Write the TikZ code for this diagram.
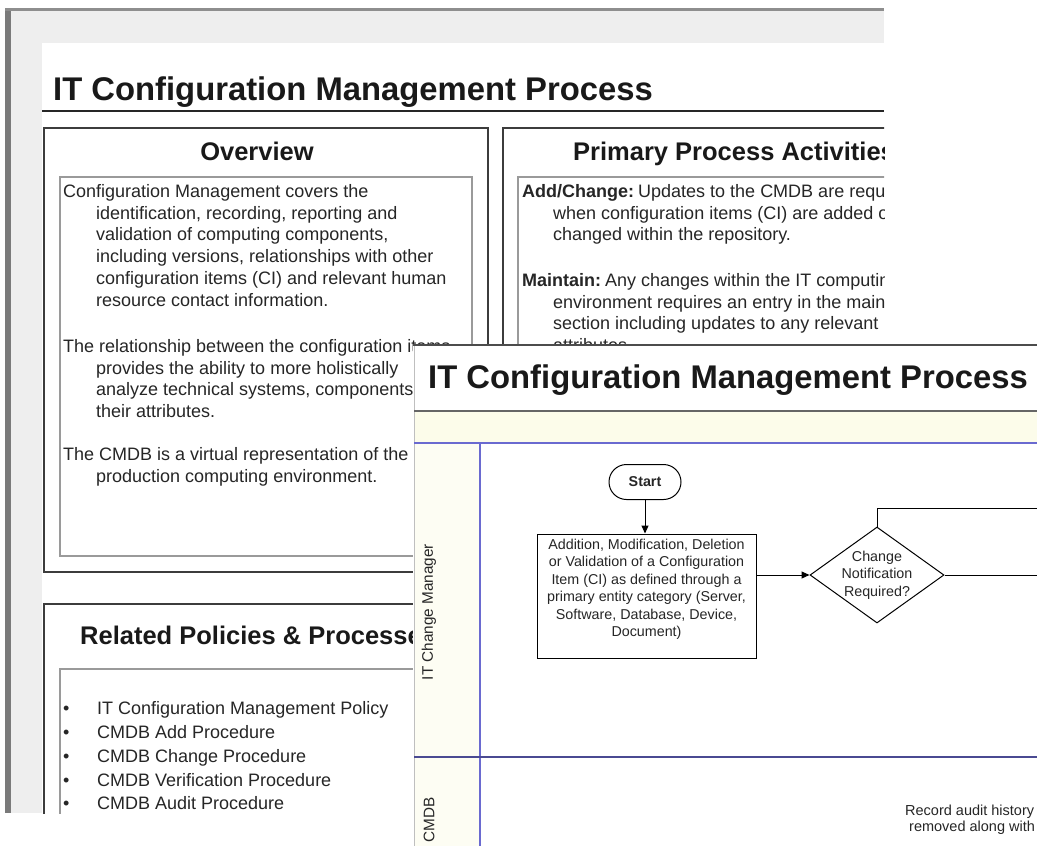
\documentclass[tikz,border=0pt]{standalone}
\usepackage{fontspec}
\setmainfont{Liberation Sans}
\usetikzlibrary{arrows.meta,shapes.geometric,shapes.misc}
\definecolor{framegray}{HTML}{7A7A7A}
\definecolor{bggray}{HTML}{EEEEEE}
\definecolor{boxdark}{HTML}{3C3C3C}
\definecolor{boxlight}{HTML}{9A9A9A}
\definecolor{txt}{HTML}{262626}
\definecolor{lanecol}{HTML}{6A6AD0}
\definecolor{laneyellow}{HTML}{FCFCEA}
\begin{document}
\begin{tikzpicture}[x=1pt,y=-1pt,
  bigtitle/.style={anchor=base west,inner sep=0pt,text=black!90,font=\bfseries\fontsize{32.8}{36}\selectfont},
  heading/.style={anchor=base,inner sep=0pt,text=black!90,font=\bfseries\fontsize{25.5}{30}\selectfont},
  headingw/.style={anchor=base west,inner sep=0pt,text=black!90,font=\bfseries\fontsize{25.5}{30}\selectfont},
  bodyline/.style={anchor=base west,inner sep=0pt,text=txt,font=\fontsize{18}{21.7}\selectfont},
  outerpanel/.style={draw=boxdark,line width=2pt},
  innerpanel/.style={draw=boxlight,line width=1.4pt},
  flowtext/.style={inner sep=0pt,text=black!85,font=\fontsize{14.3}{17.5}\selectfont,align=center},
  flowline/.style={draw=black,line width=1pt},
  flowarrow/.style={flowline,-{Triangle[length=8pt,width=7pt]}},
  laneline/.style={draw=lanecol,line width=1.3pt},
  lanelabel/.style={rotate=90,inner sep=0pt,text=black!85,font=\fontsize{15.3}{18}\selectfont},
  auditline/.style={anchor=base west,inner sep=0pt,text=black!85,font=\fontsize{14.5}{18}\selectfont},
]
\fill[white] (0,0) rectangle (1037,846);
\useasboundingbox (0,0) rectangle (1037,846);
\clip (0,0) rectangle (1037,846);

% ---------- back page ----------
\fill[bggray] (5,8) rectangle (884,813);
\fill[framegray] (5,8) rectangle (11,813);
\fill[framegray!85] (5,8) rectangle (884,11);
\fill[white] (42,43) rectangle (884,813);

\begin{scope}
\clip (42,43) rectangle (884,813);
\node[bigtitle] (backtitle) at (53,100) {IT Configuration Management Process};
\draw[black!85,line width=2pt] (42,111) -- (884,111);

% Overview panel
\draw[outerpanel] (44,128) rectangle (488,572);
\draw[innerpanel] (60,177) rectangle (472,556);
\node[heading] (ovhead) at (257,160) {Overview};
\node[bodyline] (ov1) at (63,197) {Configuration Management covers the};
\node[bodyline] (ov2) at (96,219) {identification, recording, reporting and};
\node[bodyline] (ov3) at (96,240) {validation of computing components,};
\node[bodyline] (ov4) at (96,262) {including versions, relationships with other};
\node[bodyline] (ov5) at (96,284) {configuration items (CI) and relevant human};
\node[bodyline] (ov6) at (96,306) {resource contact information.};
\node[bodyline] (ov7) at (63,352) {The relationship between the configuration items};
\node[bodyline] (ov8) at (96,374) {provides the ability to more holistically};
\node[bodyline] (ov9) at (96,395) {analyze technical systems, components and};
\node[bodyline] (ov10) at (96,417) {their attributes.};
\node[bodyline] (ov11) at (63,460) {The CMDB is a virtual representation of the};
\node[bodyline] (ov12) at (96,482) {production computing environment.};

% Primary process activities panel
\draw[outerpanel] (503,128) rectangle (1000,572);
\draw[innerpanel] (518,177) rectangle (990,556);
\node[headingw] (pphead) at (573,160) {Primary Process Activities};
\node[bodyline] (pp1) at (522,197) {\textbf{Add/Change:}\hspace{4pt}Updates to the CMDB are required};
\node[bodyline] (pp2) at (553,219) {when configuration items (CI) are added or};
\node[bodyline] (pp3) at (553,240) {changed within the repository.};
\node[bodyline] (pp4) at (522,286) {\textbf{Maintain:}\hspace{4pt}Any changes within the IT computing};
\node[bodyline] (pp5) at (553,308) {environment requires an entry in the maintenance};
\node[bodyline] (pp6) at (553,329) {section including updates to any relevant};
\node[bodyline] (pp7) at (553,351) {attributes.};

% Related policies panel
\draw[outerpanel] (44,604) rectangle (488,900);
\draw[innerpanel] (60,669) rectangle (472,890);
\node[headingw] (rphead) at (80,644) {Related Policies \& Processes};
\foreach \n/\y/\t in {rp1/714/{IT Configuration Management Policy},
                      rp2/738/{CMDB Add Procedure},
                      rp3/762/{CMDB Change Procedure},
                      rp4/786/{CMDB Verification Procedure},
                      rp5/809/{CMDB Audit Procedure}}{
  \node[bodyline] (\n b) at (63,\y) {•};
  \node[bodyline] (\n) at (97,\y) {\t};
}
\end{scope}

% ---------- front window ----------
\fill[white] (413,345) rectangle (1037,846);
\draw[black!25,line width=1pt] (414,345) -- (414,846);
\draw[black!70,line width=2pt] (413,345) -- (1037,345);
\node[bigtitle] (fronttitle) at (428,388) {IT Configuration Management Process};
\draw[black!60,line width=2pt] (414,411) -- (1037,411);
\fill[laneyellow] (415,412) rectangle (1037,443);
\fill[laneyellow!60] (415,443) rectangle (480,846);
\draw[laneline] (414,443) -- (1037,443);
\draw[laneline] (480,443) -- (480,846);
\draw[laneline,draw=lanecol!70!black] (414,757) -- (1037,757);

\node[lanelabel] (lane1) at (429,612) {IT Change Manager};
\node[lanelabel] (lane2) at (429,820) {CMDB};

\node[draw,line width=1pt,rounded rectangle,minimum width=72pt,minimum height=35pt,inner sep=0pt,
      font=\bfseries\fontsize{14.3}{16}\selectfont,text=black!85] (start) at (645,482) {Start};
\node[draw,line width=1pt,minimum width=219pt,minimum height=124pt,inner sep=0pt] (act) at (646.5,596) {};
\node[flowtext] (acttxt) at (646.5,589.5) {Addition, Modification, Deletion\\or Validation of a Configuration\\Item (CI) as defined through a\\primary entity category (Server,\\Software, Database, Device,\\Document)};
\node[draw,line width=1pt,diamond,minimum width=134pt,minimum height=96pt,inner sep=0pt] (dec) at (877,575) {};
\node[flowtext] (dectxt) at (877,575) {Change\\Notification\\Required?};

\draw[flowarrow] (start.south) -- (start.south |- act.north);
\draw[flowarrow] (act.east |- dec.west) -- (dec.west);
\coordinate (exit1) at (1037,508);
\coordinate (exit2) at (1037,575);
\draw[flowline] (dec.north) |- (exit1);
\draw[flowline] (dec.east) -- (exit2);

\node[auditline] (rec1) at (905,815) {Record audit history};
\node[auditline] (rec2) at (909,831) {removed along with};
\end{tikzpicture}
\end{document}
